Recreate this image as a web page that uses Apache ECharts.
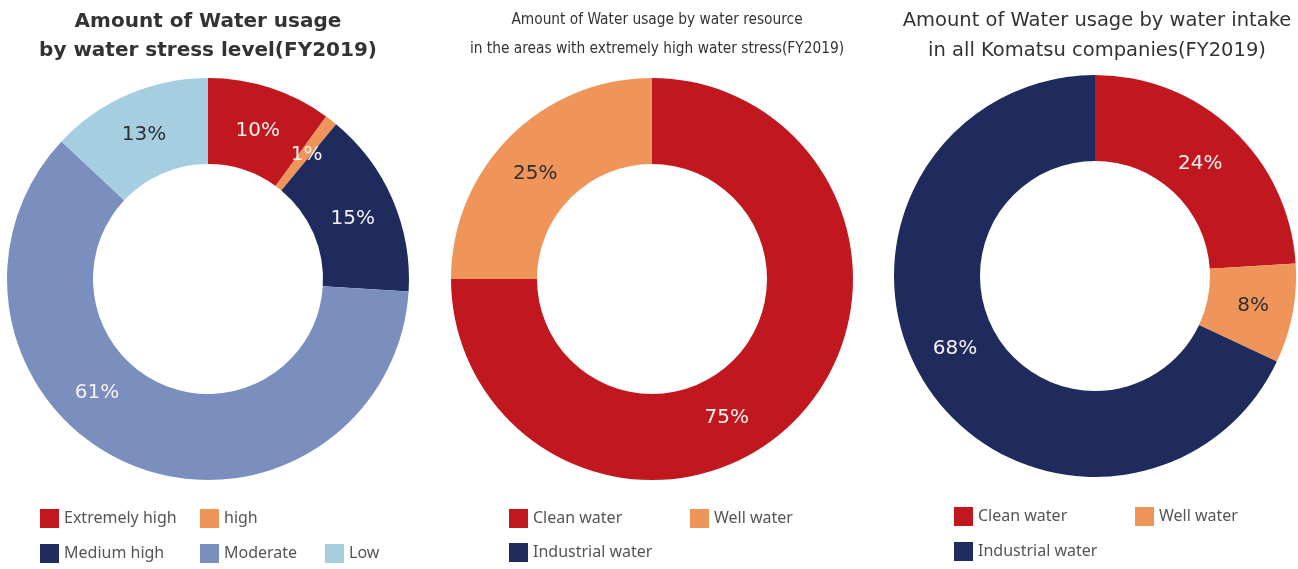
<!DOCTYPE html>
<html>
<head>
<meta charset="utf-8">
<script src="https://cdn.jsdelivr.net/npm/echarts@6/dist/echarts.min.js"></script>
<style>
html,body{margin:0;padding:0;background:#fff;}
#main{width:1298px;height:569px;}
</style>
</head>
<body>
<div id="main"></div>
<script>
// ---- data ----
const stressCategories = ['Extremely high', 'high', 'Medium high', 'Moderate', 'Low'];
const stressValues = [10, 1, 15, 61, 13];
const resourceCategories = ['Clean water', 'Well water'];
const resourceValues = [75, 25];
const intakeCategories = ['Clean water', 'Well water', 'Industrial water'];
const intakeValues = [24, 8, 68];

const titles = [
  'Amount of Water usage\nby water stress level(FY2019)',
  'Amount of Water usage by water resource\nin the areas with extremely high water stress(FY2019)',
  'Amount of Water usage by water intake\nin all Komatsu companies(FY2019)'
];

// ---- styles ----
const colorMap = {
  'Extremely high': '#C1181F',
  'high': '#F0955A',
  'Medium high': '#1E2B5C',
  'Moderate': '#7A8FBE',
  'Low': '#A6CEE1',
  'Clean water': '#C1181F',
  'Well water': '#F0955A',
  'Industrial water': '#1E2B5C'
};
const darkLabel = { 'Low': true, 'Well water': true };

const labelShift = [
  [[0, 5], [0, 3], [-3, 4], [-47, -34], [0, 4]],
  [[-39, 25], [-3, 9]],
  [[-5, 5], [0, 0], [-4, -13]]
];

function buildData(cats, vals) {
  return cats.map((c, i) => ({
    name: c,
    value: vals[i],
    itemStyle: { color: colorMap[c] },
    label: { color: darkLabel[c] ? '#2f2f2f' : '#F6F1EE' }
  }));
}

function pieSeries(idx, cx, cy, cats, vals) {
  return {
    type: 'pie',
    center: [cx, cy],
    radius: [115, 201],
    startAngle: 90,
    clockwise: true,
    silent: true,
    animation: false,
    label: {
      show: true,
      position: 'inside',
      formatter: '{c}%',
      fontFamily: 'DejaVu Sans',
      fontSize: 20
    },
    labelLine: { show: false },
    labelLayout: function (p) {
      const s = labelShift[idx][p.dataIndex] || [0, 0];
      return { dx: s[0], dy: s[1] };
    },
    data: buildData(cats, vals)
  };
}

function legendItem(name, left, top) {
  return {
    data: [name],
    left: left,
    top: top,
    itemWidth: 19,
    itemHeight: 19,
    itemGap: 0,
    itemTextGap: 7,
    icon: 'rect',
    selectedMode: false,
    padding: 0,
    textStyle: { color: '#555', fontSize: 16, fontFamily: 'Noto Sans' }
  };
}

const chart = echarts.init(document.getElementById('main'), null, { renderer: 'canvas' });

const option = {
  backgroundColor: '#ffffff',
  animation: false,
  title: [
    {
      text: titles[0], left: 203, top: 2, textAlign: 'center',
      textStyle: { fontFamily: 'DejaVu Sans', fontWeight: 'bold', fontSize: 20, color: '#333', lineHeight: 29 }
    },
    {
      text: titles[1], left: 652, top: 1, textAlign: 'center',
      textStyle: { fontFamily: "'Liberation Sans Narrow', 'DejaVu Sans Condensed', sans-serif", fontWeight: 'normal', fontSize: 15.3, color: '#333', lineHeight: 29 }
    },
    {
      text: titles[2], left: 1092, top: 1, textAlign: 'center',
      textStyle: { fontFamily: 'DejaVu Sans', fontWeight: 'normal', fontSize: 19.5, color: '#333', lineHeight: 30 }
    }
  ],
  legend: [
    legendItem('Extremely high', 40, 509),
    legendItem('high', 200, 509),
    legendItem('Medium high', 40, 544),
    legendItem('Moderate', 200, 544),
    legendItem('Low', 325, 544),
    legendItem('Clean water', 509, 509),
    legendItem('Well water', 690, 509),
    legendItem('Industrial water', 509, 543),
    legendItem('Clean water', 954, 507),
    legendItem('Well water', 1135, 507),
    legendItem('Industrial water', 954, 542)
  ],
  series: [
    pieSeries(0, 208, 279, stressCategories, stressValues),
    pieSeries(1, 652, 279, resourceCategories, resourceValues),
    pieSeries(2, 1095, 276, intakeCategories, intakeValues)
  ]
};
chart.setOption(option);
</script>
</body>
</html>
